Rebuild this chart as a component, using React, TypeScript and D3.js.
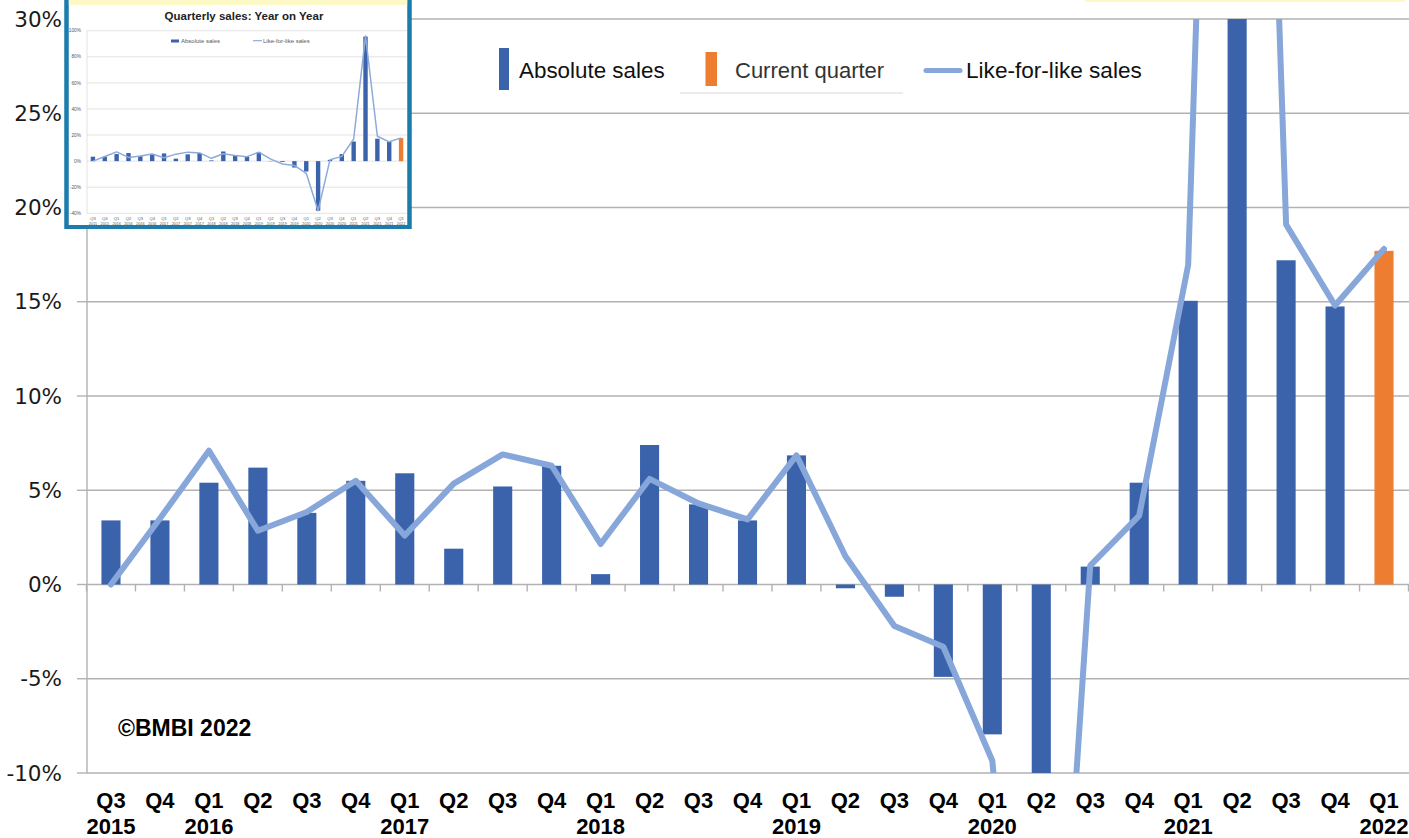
import React from 'react';
import * as d3 from 'd3';

const quarters = ['Q3','Q4','Q1','Q2','Q3','Q4','Q1','Q2','Q3','Q4','Q1','Q2','Q3','Q4','Q1','Q2','Q3','Q4','Q1','Q2','Q3','Q4','Q1','Q2','Q3','Q4','Q1'];
const years = ['2015','2015','2016','2016','2016','2016','2017','2017','2017','2017','2018','2018','2018','2018','2019','2019','2019','2019','2020','2020','2020','2020','2021','2021','2021','2021','2022'];
const absoluteSales = [3.4, 3.4, 5.4, 6.2, 3.8, 5.5, 5.9, 1.9, 5.2, 6.3, 0.55, 7.4, 4.25, 3.4, 6.85, -0.2, -0.65, -4.9, -7.95, -38, 0.95, 5.4, 15.05, 95.5, 17.2, 14.75, 17.7];
const likeForLike = [0, 3.5, 7.1, 2.85, 3.85, 5.5, 2.6, 5.35, 6.9, 6.3, 2.15, 5.6, 4.3, 3.45, 6.85, 1.5, -2.2, -3.3, -9.35, -38, 1.0, 3.65, 16.95, 96, 19.1, 14.8, 17.8];
const currentQuarter = { quarter: 'Q1', year: '2022' };
const yTicks = [30, 25, 20, 15, 10, 5, 0, -5, -10];
const insetYTicks = [100, 80, 60, 40, 20, 0, -20, -40];
const legendLabels = ['Absolute sales', 'Current quarter', 'Like-for-like sales'];
const insetTitle = 'Quarterly sales: Year on Year';
const copyright = '©BMBI 2022';

const BLUE = '#3a63ac';
const ORANGE = '#ed7d31';
const LINE = '#87a6d9';
const GRID = '#b2b2b2';

const isCurrent = (i: number) => quarters[i] === currentQuarter.quarter && years[i] === currentQuarter.year;

export default function App() {
  const W = 1409, H = 838;
  const idx = d3.range(quarters.length);
  const x = d3.scaleBand<number>().domain(idx).range([86.5, 1408.5]);
  const y = d3.scaleLinear().domain([-10, 30]).range([773, 19]);
  const bw = x.bandwidth() * 0.39;
  const cx = (i: number) => (x(i) as number) + x.bandwidth() / 2;
  const line = d3.line<number>().x((d, i) => cx(i)).y(d => y(d));

  // inset scales
  const xi = d3.scaleBand<number>().domain(idx).range([87, 407]);
  const yi = d3.scaleLinear().domain([-40, 100]).range([213.3, 30.7]);
  const bwi = xi.bandwidth() * 0.37;
  const cxi = (i: number) => (xi(i) as number) + xi.bandwidth() / 2;
  const linei = d3.line<number>().x((d, i) => cxi(i)).y(d => yi(d));

  const y0 = y(0);
  const boundaries = d3.range(quarters.length + 1).map(k => 86.5 + k * x.bandwidth());

  return (
    <svg width={W} height={H} style={{ position: 'absolute', left: 0, top: 0, background: '#fff' }}
      fontFamily="'Liberation Sans', Arial, sans-serif">
      <defs>
        <clipPath id="plot"><rect x={87} y={19} width={W - 87} height={773 - 19} /></clipPath>
      </defs>
      <rect width={W} height={H} fill="#fff" />
      {/* gridlines */}
      {yTicks.map(t => (
        <line key={t} x1={87} x2={W} y1={y(t)} y2={y(t)} stroke={GRID} strokeWidth={1.4} />
      ))}
      {/* zero-line category ticks */}
      {boundaries.map((b, k) => (
        <line key={k} x1={b} x2={b} y1={y0} y2={y0 + 7} stroke={GRID} strokeWidth={1.4} />
      ))}
      {/* y axis */}
      <line x1={87} x2={87} y1={19} y2={773} stroke={GRID} strokeWidth={1.4} />
      {yTicks.map(t => (
        <line key={t} x1={77} x2={87} y1={y(t)} y2={y(t)} stroke={GRID} strokeWidth={1.4} />
      ))}
      {yTicks.map(t => (
        <text key={t} x={62} y={y(t)} dy="0.36em" textAnchor="end" fontFamily="'DejaVu Sans', Verdana, sans-serif" fontSize={21.5} fill="#1a1a1a">{t}%</text>
      ))}
      {/* bars and line */}
      <g clipPath="url(#plot)">
        {absoluteSales.map((v, i) => (
          <rect key={i} x={cx(i) - bw / 2} width={bw} y={Math.min(y(v), y0)} height={Math.abs(y(v) - y0)}
            fill={isCurrent(i) ? ORANGE : BLUE} />
        ))}
        <path d={line(likeForLike) || ''} fill="none" stroke={LINE} strokeWidth={6} strokeLinejoin="round" strokeLinecap="round" />
      </g>
      {/* x labels */}
      {quarters.map((q, i) => (
        <text key={i} x={cx(i)} y={808} textAnchor="middle" fontWeight="bold" fontSize={22} fill="#000">{q}</text>
      ))}
      {years.map((yr, i) => (i === 0 || quarters[i] === 'Q1') ? (
        <text key={i} x={cx(i)} y={834} textAnchor="middle" fontWeight="bold" fontSize={22} fill="#000">{yr}</text>
      ) : null)}
      {/* legend */}
      <rect x={499} y={48} width={10} height={42} fill={BLUE} />
      <text x={519} y={78} fontSize={22.4} fill="#111">{legendLabels[0]}</text>
      <line x1={680} x2={903} y1={93} y2={93} stroke="#e6e6e6" strokeWidth={1.5} />
      <rect x={705.5} y={52} width={11.5} height={34} fill={ORANGE} />
      <text x={735} y={78} fontSize={22} fill="#333">{legendLabels[1]}</text>
      <line x1={926} x2={960} y1={70.5} y2={70.5} stroke={LINE} strokeWidth={5} strokeLinecap="round" />
      <text x={966} y={78} fontSize={22.6} fill="#111">{legendLabels[2]}</text>
      {/* copyright */}
      <text x={118} y={736} fontWeight="bold" fontSize={23} fill="#000">{copyright}</text>
      {/* top-right yellow band */}
      <rect x={1085} y={0} width={320} height={2} fill="#fcf9c6" />

      {/* inset */}
      <g>
        <rect x={66.5} y={-10} width={343} height={237} fill="#fff" stroke="#1b7dab" strokeWidth={4} />
        <rect x={68.5} y={0} width={339} height={5} fill="#fcf9c6" />
        <text x={244} y={20} textAnchor="middle" fontWeight="bold" fontSize={11.5} fill="#222">{insetTitle}</text>
        {insetYTicks.map(t => (
          <line key={t} x1={87} x2={407} y1={yi(t)} y2={yi(t)} stroke="#dcdcdc" strokeWidth={0.8} />
        ))}
        <line x1={87} x2={87} y1={30.7} y2={213.3} stroke="#dcdcdc" strokeWidth={0.8} />
        {insetYTicks.map(t => (
          <text key={t} x={81} y={yi(t)} dy="0.35em" textAnchor="end" fontSize={4.8} fill="#595959">{t}%</text>
        ))}
        {absoluteSales.map((v, i) => (
          <rect key={i} x={cxi(i) - bwi / 2} width={bwi} y={Math.min(yi(v), yi(0))} height={Math.abs(yi(v) - yi(0))}
            fill={isCurrent(i) ? ORANGE : BLUE} />
        ))}
        <path d={linei(likeForLike) || ''} fill="none" stroke="#8eaadb" strokeWidth={1.5} strokeLinejoin="round" />
        <rect x={171} y={39.5} width={8} height={3} fill={BLUE} />
        <text x={181} y={40.7} dy="0.35em" fontSize={6} fill="#595959">{legendLabels[0]}</text>
        <line x1={253} x2={262} y1={40.7} y2={40.7} stroke="#8eaadb" strokeWidth={1.2} />
        <text x={263} y={40.7} dy="0.35em" fontSize={6} fill="#595959">{legendLabels[2]}</text>
        {quarters.map((q, i) => (
          <text key={i} x={cxi(i)} y={220} textAnchor="middle" fontSize={4.2} fill="#595959">{q}</text>
        ))}
        {years.map((yr, i) => (
          <text key={i} x={cxi(i)} y={225} textAnchor="middle" fontSize={3.8} fill="#595959">{yr}</text>
        ))}
        <rect x={66.5} y={-10} width={343} height={237} fill="none" stroke="#1b7dab" strokeWidth={4} />
      </g>
    </svg>
  );
}
